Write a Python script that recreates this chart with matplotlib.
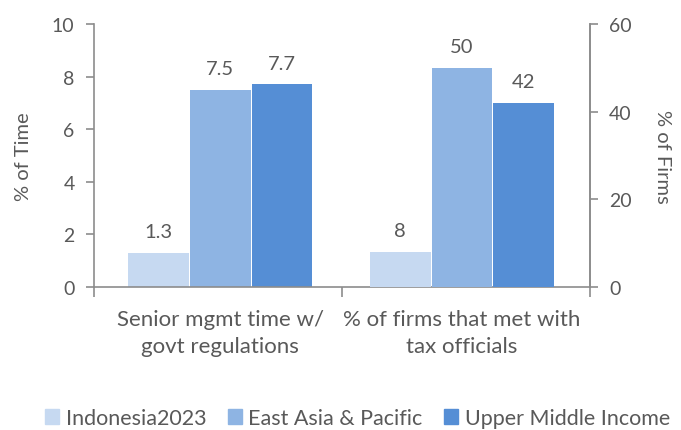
import matplotlib.pyplot as plt
import numpy as np

plt.rcParams['font.family'] = ['Lato', 'DejaVu Sans']

categories = ["Senior mgmt time w/\ngovt regulations", "% of firms that met with\ntax officials"]
series = ["Indonesia2023", "East Asia & Pacific", "Upper Middle Income"]
time_vals = [1.3, 7.5, 7.7]      # left axis, % of Time
firms_vals = [8, 50, 42]         # right axis, % of Firms
colors = ["#C6D9F1", "#8EB4E3", "#558ED5"]

grey = "#595959"
axis_col = "#8C8C8C"

fig = plt.figure(figsize=(6.81, 4.31), dpi=100)
ax = fig.add_axes([0.138, 0.332, 0.728, 0.61])
ax2 = ax.twinx()

w = 0.245
offsets = [-w - 0.004, 0, w + 0.004]
for i in range(3):
    b = ax.bar(0.01 + offsets[i], time_vals[i], w, color=colors[i], label=series[i])
    ax.bar_label(b, labels=[f"{time_vals[i]}"], padding=9, color=grey, fontsize=14.5)
    b2 = ax2.bar(0.985 + offsets[i], firms_vals[i], w, color=colors[i])
    ax2.bar_label(b2, labels=[f"{firms_vals[i]}"], padding=9, color=grey, fontsize=14.5)

ax.set_xlim(-0.5, 1.5)
ax.set_ylim(0, 10)
ax2.set_ylim(0, 60)
ax.set_yticks(np.arange(0, 11, 2))
ax2.set_yticks(np.arange(0, 61, 20))

ax.set_xticks([-0.5, 0.5, 1.5])
ax.set_xticklabels([])
ax.set_xticks([0.01, 0.985], minor=True)
ax.set_xticklabels(categories, minor=True, fontsize=16, color=grey, linespacing=1.45)
ax.tick_params(axis='x', which='minor', length=0, pad=16)
ax.tick_params(axis='x', which='major', length=7, color=axis_col, width=1.2)

for a in (ax, ax2):
    a.spines["top"].set_visible(False)
    for s in ("left", "right", "bottom"):
        a.spines[s].set_color(axis_col)
        a.spines[s].set_linewidth(1.2)
ax.tick_params(axis='y', labelsize=14, colors=grey, length=6, color=axis_col, width=1.2, pad=8)
ax2.tick_params(axis='y', labelsize=14, colors=grey, length=6, color=axis_col, width=1.2, pad=8)
ax2.spines["left"].set_visible(False)
ax2.spines["bottom"].set_visible(False)

ax.set_ylabel("% of Time", fontsize=14.5, color=grey, labelpad=14)
ax2.set_ylabel("% of Firms", fontsize=14.5, color=grey, rotation=270, labelpad=28)

handles = [plt.Rectangle((0, 0), 1, 1, color=c) for c in colors]
fig.legend(handles, series, loc="center", bbox_to_anchor=(0.525, 0.028), ncol=3, frameon=False,
           fontsize=15.5, labelcolor=grey, handlelength=0.65, handleheight=0.65, handletextpad=0.3,
           columnspacing=1.0)

fig.savefig("out.png", dpi=100)
